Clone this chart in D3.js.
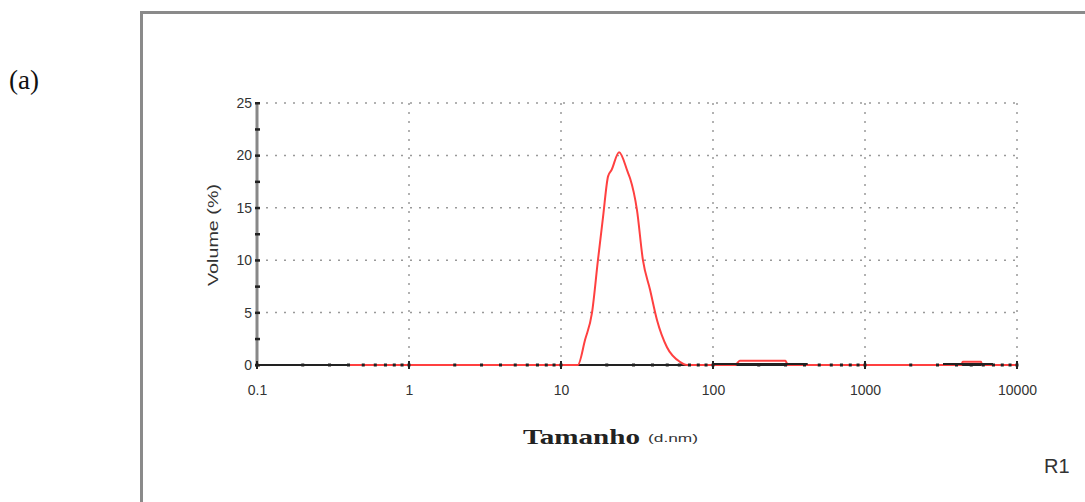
<!DOCTYPE html>
<html>
<head>
<meta charset="utf-8">
<script src="https://cdn.jsdelivr.net/npm/d3@7"></script>
<style>
body { margin: 0; background: #fff; }
.tick-label { font: 14px "Liberation Sans", Arial, sans-serif; fill: #333; }
.grid line { stroke: #999; stroke-width: 1.5px; stroke-dasharray: 2,7; }
.line-red { fill: none; stroke: #ff4040; stroke-width: 2px; }
.line-black { fill: none; stroke: #222; stroke-width: 2px; }
</style>
</head>
<body>
<svg id="chart" width="1085" height="502"></svg>
<script>
// size (d.nm) / volume (%)
var sizeRed = [0.4, 12.9, 14.4, 16.0, 17.5, 18.9, 20.4, 21.5, 24.1, 27.5, 28.5, 31.6, 34.6, 38.5, 42.8, 49.8, 60.6, 67.4, 140, 150, 300, 310, 4300, 4400, 5800, 5900, 10000];
var volRed  = [0,   0,    2.4,  5.0,  10.0, 14.1, 18.0, 18.6, 20.3, 18.4, 17.8, 14.8, 10.0, 7.2,  4.3,  1.7,  0.3,  0,    0,   0.4, 0.4, 0,   0,    0.3,  0.3,  0,    0];

var sizeBlack = [100, 420, 3260, 6950];
var volBlack  = [0.1, 0.1, 0.1, 0.1];

var xTicks = [0.1, 1, 10, 100, 1000, 10000];
var xTickLabels = ["0.1", "1", "10", "100", "1000", "10000"];
var yTicks = [0, 5, 10, 15, 20, 25];

var svg = d3.select("#chart");

// outer frame
svg.append("rect")
    .attr("x", 141.5).attr("y", 12.5)
    .attr("width", 1100).attr("height", 600)
    .attr("fill", "none").attr("stroke", "#8a8a8a").attr("stroke-width", 3);

svg.append("text")
    .attr("x", 9).attr("y", 89)
    .style("font", "27px 'Liberation Serif', 'Times New Roman', serif")
    .attr("fill", "#111")
    .text("(a)");

var x = d3.scaleLog().domain([0.1, 10000]).range([257, 1017]);
var y = d3.scaleLinear().domain([0, 25]).range([365, 103]);

// grid
var grid = svg.append("g").attr("class", "grid");
grid.selectAll(".h").data(yTicks.slice(1)).enter().append("line")
    .attr("x1", x(0.1)).attr("x2", x(10000))
    .attr("y1", d => y(d)).attr("y2", d => y(d));
grid.selectAll(".v").data(xTicks.slice(1)).enter().append("line")
    .attr("x1", d => x(d)).attr("x2", d => x(d))
    .attr("y1", y(25)).attr("y2", y(0));

// y axis
svg.append("line")
    .attr("x1", x(0.1)).attr("x2", x(0.1))
    .attr("y1", y(25)).attr("y2", y(0))
    .attr("stroke", "#888").attr("stroke-width", 3);
var yMinor = d3.range(0, 25.1, 2.5);
svg.selectAll(".ym").data(yMinor).enter().append("rect")
    .attr("x", x(0.1) - 2).attr("y", d => y(d) - 1)
    .attr("width", 5).attr("height", 2.5).attr("fill", "#222");
svg.append("g")
    .attr("transform", "translate(" + x(0.1) + ",0)")
    .call(d3.axisLeft(y).tickValues(yTicks).tickSize(0).tickPadding(5))
    .call(g => g.select(".domain").remove())
    .selectAll("text").attr("class", "tick-label");

svg.append("text")
    .attr("transform", "translate(218,235) rotate(-90)")
    .attr("text-anchor", "middle")
    .attr("textLength", 102).attr("lengthAdjust", "spacingAndGlyphs")
    .attr("class", "tick-label")
    .style("font-size", "14px")
    .text("Volume (%)");

// x axis
svg.append("line")
    .attr("x1", x(0.1)).attr("x2", x(10000))
    .attr("y1", y(0)).attr("y2", y(0))
    .attr("stroke", "#222").attr("stroke-width", 2);

var line = d3.line().x(d => x(d[0])).y(d => y(d[1])).curve(d3.curveMonotoneX);

svg.append("path")
    .datum(d3.zip(sizeRed, volRed))
    .attr("class", "line-red")
    .attr("d", line);

for (var i = 0; i < sizeBlack.length; i += 2) {
  svg.append("path")
      .datum([[sizeBlack[i], volBlack[i]], [sizeBlack[i + 1], volBlack[i + 1]]])
      .attr("class", "line-black")
      .attr("d", line);
}

// minor ticks on x axis
var xMinor = [];
[0.1, 1, 10, 100, 1000].forEach(function(dec) {
  for (var k = 1; k < 10; k++) xMinor.push(dec * k);
});
xMinor.push(10000);
svg.selectAll(".xm").data(xMinor).enter().append("rect")
    .attr("x", d => x(d) - 1.5).attr("y", y(0) - 1.5)
    .attr("width", 3).attr("height", 3).attr("fill", "#222");
svg.selectAll(".xM").data(xTicks).enter().append("rect")
    .attr("x", d => x(d) - 1).attr("y", y(0) - 4)
    .attr("width", 2).attr("height", 8).attr("fill", "#222");

svg.append("g")
    .attr("transform", "translate(0," + y(0) + ")")
    .call(d3.axisBottom(x).tickValues(xTicks).tickSize(0).tickPadding(20)
      .tickFormat((d, i) => xTickLabels[i]))
    .call(g => g.select(".domain").remove())
    .selectAll("text").attr("class", "tick-label");

var xt = svg.append("text").attr("x", 523).attr("y", 444);
xt.append("tspan")
    .style("font", "bold 21px 'Liberation Serif', 'Times New Roman', serif")
    .attr("fill", "#222")
    .attr("textLength", 117).attr("lengthAdjust", "spacingAndGlyphs")
    .text("Tamanho");
xt.append("tspan")
    .attr("x", 648).attr("y", 442)
    .attr("class", "tick-label")
    .style("font-size", "11px")
    .attr("textLength", 50).attr("lengthAdjust", "spacingAndGlyphs")
    .text("(d.nm)");

svg.append("text")
    .attr("x", 1044).attr("y", 473)
    .style("font", "20px 'Liberation Sans', Arial, sans-serif")
    .attr("fill", "#333")
    .text("R1");
</script>
</body>
</html>
